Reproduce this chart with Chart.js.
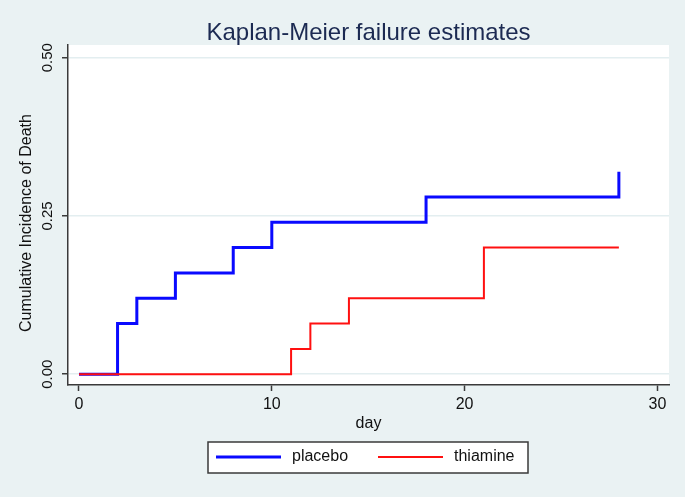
<!DOCTYPE html>
<html>
<head>
<meta charset="utf-8">
<script src="https://cdn.jsdelivr.net/npm/chart.js@4"></script>
<style>
  html, body { margin: 0; padding: 0; background: #eaf2f3; }
  #wrap { width: 685px; height: 497px; }
</style>
</head>
<body>
<div id="wrap"><canvas id="container" width="685" height="497"></canvas></div>
<script>
// KM failure estimates
const placeboDays = [0, 2, 3, 5, 8, 10, 18, 28];
const placeboFail = [0, 0.08, 0.12, 0.16, 0.20, 0.24, 0.28, 0.32];
const thiamineDays = [0, 11, 12, 14, 21, 28];
const thiamineFail = [0, 0.04, 0.08, 0.12, 0.20, 0.20];
const xTicks = [0, 10, 20, 30];
const yTicks = [0, 0.25, 0.5];
const yTickLabels = ['0.00', '0.25', '0.50'];

const FONT = "'Liberation Sans', Arial, sans-serif";

function toPoints(days, vals) {
    return days.map((d, i) => ({ x: d, y: vals[i] }));
}

// background, white plot region, title, axis titles, rotated y labels, legend
const stataLook = {
    id: 'stataLook',
    beforeDraw(chart) {
        const ctx = chart.ctx;
        const a = chart.chartArea;
        ctx.save();
        ctx.fillStyle = '#eaf2f3';
        ctx.fillRect(0, 0, chart.width, chart.height);
        ctx.fillStyle = '#ffffff';
        ctx.fillRect(a.left, a.top, a.right - a.left, a.bottom - a.top);
        ctx.restore();
    },
    afterDraw(chart) {
        const ctx = chart.ctx;
        const a = chart.chartArea;
        const yScale = chart.scales.y;
        const mid = (a.left + a.right) / 2;
        ctx.save();

        // title
        ctx.fillStyle = '#1c2a52';
        ctx.font = '24px ' + FONT;
        ctx.textAlign = 'center';
        ctx.textBaseline = 'alphabetic';
        ctx.fillText('Kaplan-Meier failure estimates', mid, 40);

        // x title
        ctx.fillStyle = '#111';
        ctx.font = '16px ' + FONT;
        ctx.fillText('day', mid, 428);

        // y tick labels, rotated like Stata
        ctx.font = '15px ' + FONT;
        ctx.textBaseline = 'middle';
        yTicks.forEach((v, i) => {
            ctx.save();
            ctx.translate(48, yScale.getPixelForValue(v));
            ctx.rotate(-Math.PI / 2);
            ctx.fillText(yTickLabels[i], 0, 0);
            ctx.restore();
        });

        // y title
        ctx.save();
        ctx.font = '16px ' + FONT;
        ctx.translate(27, (a.top + a.bottom) / 2 + 8);
        ctx.rotate(-Math.PI / 2);
        ctx.fillText('Cumulative Incidence of Death', 0, 0);
        ctx.restore();

        // legend box
        ctx.fillStyle = '#ffffff';
        ctx.fillRect(208, 442, 320, 31);
        ctx.strokeStyle = '#3a3a3a';
        ctx.lineWidth = 1.5;
        ctx.strokeRect(208, 442, 320, 31);

        chart.data.datasets.forEach((ds, i) => {
            const x0 = i === 0 ? 216 : 378;
            ctx.strokeStyle = ds.borderColor;
            ctx.lineWidth = ds.borderWidth;
            ctx.beginPath();
            ctx.moveTo(x0, 457);
            ctx.lineTo(x0 + 65, 457);
            ctx.stroke();
            ctx.fillStyle = '#111';
            ctx.font = '16px ' + FONT;
            ctx.textAlign = 'left';
            ctx.textBaseline = 'middle';
            ctx.fillText(ds.label, x0 + 76, 457);
        });

        ctx.restore();
    }
};

function createChart() {
    const ctx = document.getElementById('container').getContext('2d');

    new Chart(ctx, {
        type: 'line',
        data: {
            datasets: [{
                label: 'placebo',
                data: toPoints(placeboDays, placeboFail),
                borderColor: '#0a0aff',
                borderWidth: 3,
                stepped: 'before',
                pointRadius: 0,
                fill: false,
                order: 1
            }, {
                label: 'thiamine',
                data: toPoints(thiamineDays, thiamineFail),
                borderColor: '#ff1010',
                borderWidth: 2,
                stepped: 'before',
                pointRadius: 0,
                fill: false,
                order: 0  // red drawn over blue, as in the original
            }]
        },
        options: {
            responsive: false,
            animation: false,
            layout: { padding: { left: 0, right: 16, top: 45, bottom: 0 } },
            plugins: {
                legend: { display: false },
                tooltip: { enabled: false }
            },
            scales: {
                x: {
                    type: 'linear',
                    min: -0.57,
                    max: 30.6,
                    afterBuildTicks: s => { s.ticks = xTicks.map(v => ({ value: v })); },
                    afterFit: s => { s.height = 112; },
                    border: { color: '#3a3a3a', width: 1.5 },
                    grid: {
                        drawOnChartArea: false,
                        drawTicks: true,
                        tickLength: 6,
                        tickColor: '#3a3a3a',
                        tickWidth: 1.5
                    },
                    ticks: {
                        color: '#111',
                        font: { size: 16, family: FONT },
                        padding: 4,
                        maxRotation: 0,
                        callback: v => String(v)
                    }
                },
                y: {
                    type: 'linear',
                    min: -0.017,
                    max: 0.52,
                    afterBuildTicks: s => { s.ticks = yTicks.map(v => ({ value: v })); },
                    afterFit: s => { s.width = 68; },
                    border: { color: '#3a3a3a', width: 1.5 },
                    grid: {
                        color: '#e3eef0',
                        lineWidth: 1.5,
                        drawTicks: true,
                        tickLength: 6,
                        tickColor: '#3a3a3a',
                        tickWidth: 1.5
                    },
                    ticks: { display: false }
                }
            }
        },
        plugins: [stataLook]
    });
}

createChart();
</script>
</body>
</html>
